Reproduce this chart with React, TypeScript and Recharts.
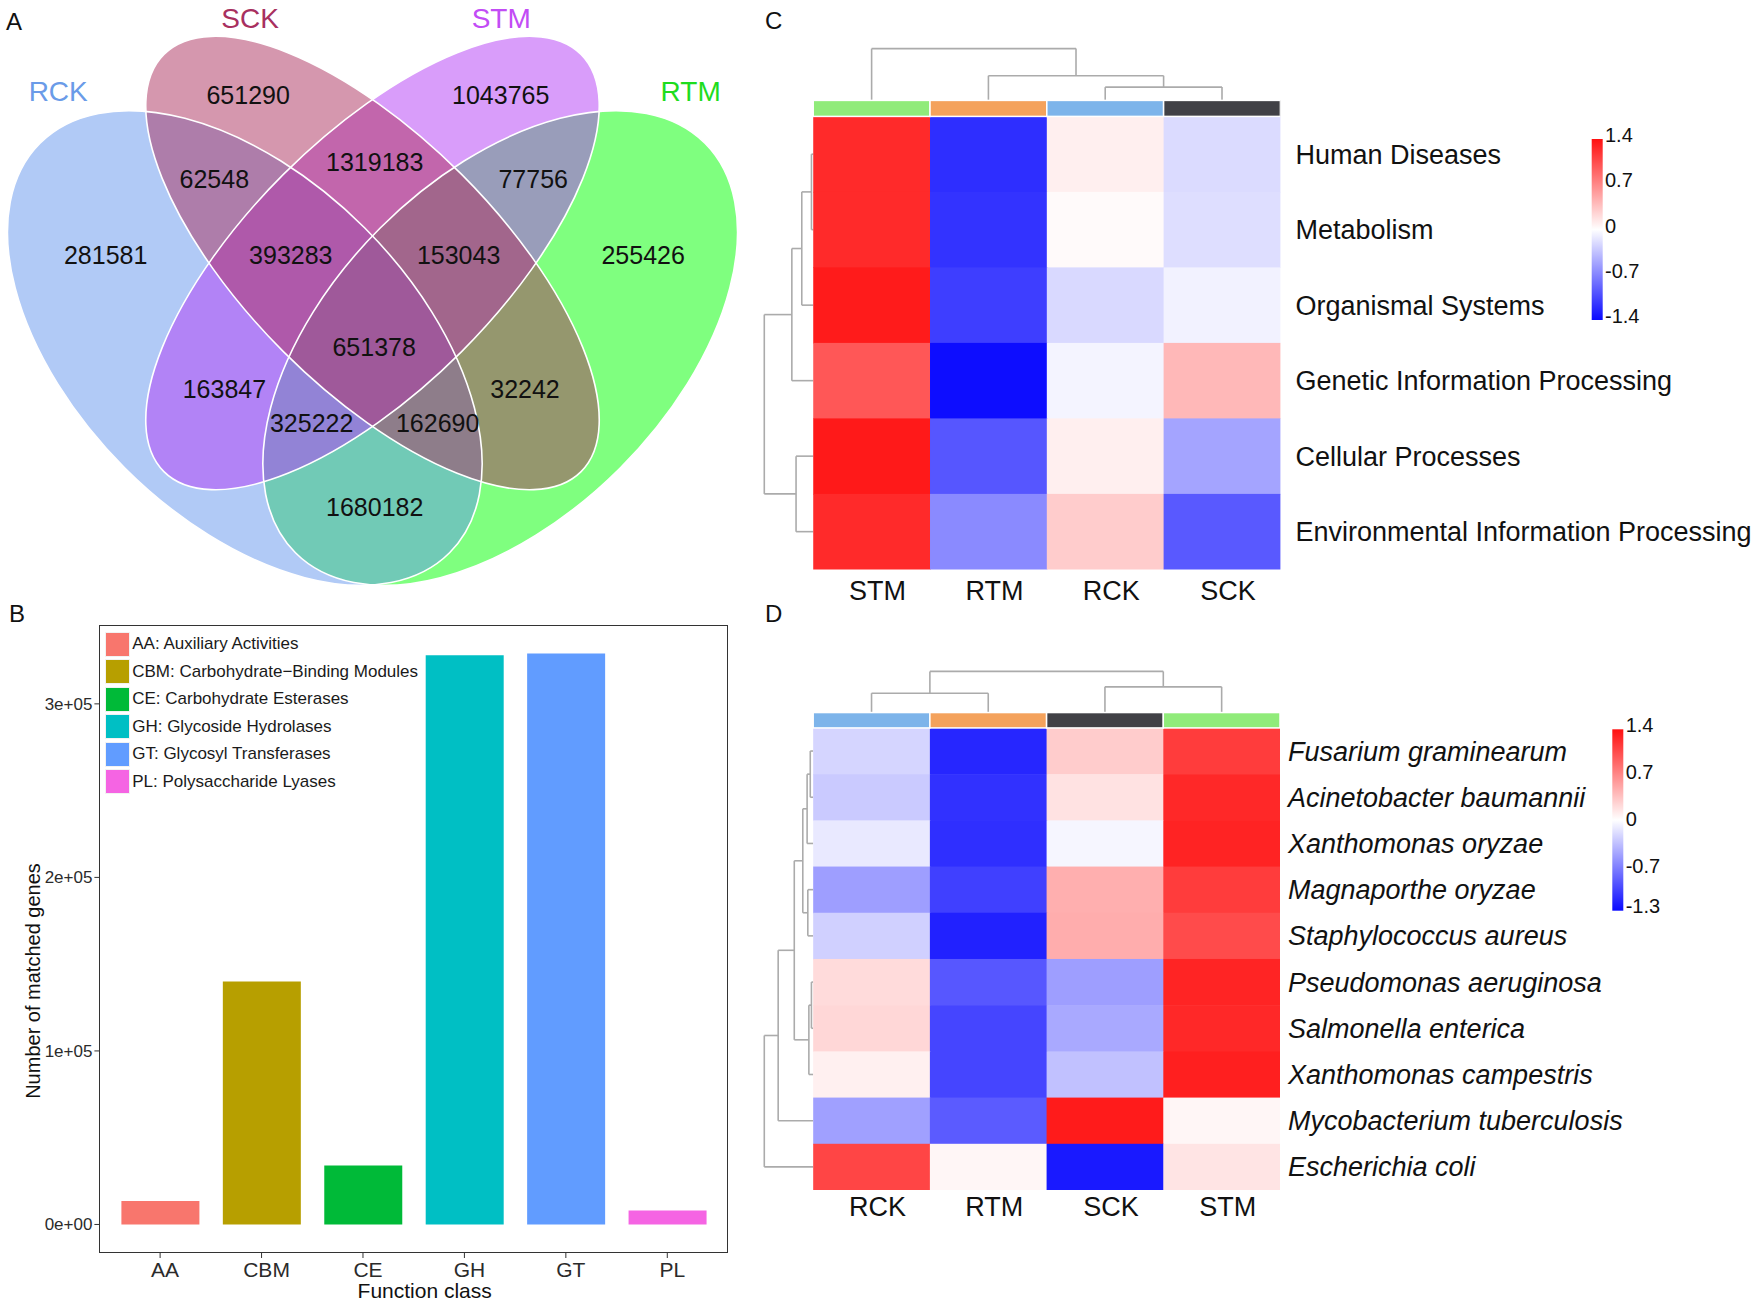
import React from "react";
import {
  Bar,
  BarChart,
  Cell,
  Legend,
  ReferenceLine,
  Scatter,
  ScatterChart,
  XAxis,
  YAxis,
} from "recharts";

const FONT = "'Liberation Sans', Arial, Helvetica, sans-serif";
const INK = "#111111";

/* ---------------- A: four-set Venn ---------------- */
// paint order matters: the overlaps are plain 50% alpha blends
const VENN_SETS = ["RTM", "RCK", "STM", "SCK"];
const VENN_COLORS = ["#00FF00", "#6495ED", "#B43CF5", "#AB2F5D"];
const VENN_LABEL_COLORS = ["#1EDC1E", "#6A9BE8", "#C24CF5", "#A8305F"];
const VENN_CX = [500.2, 244.8, 372.5, 372.5];
const VENN_CY = [348, 348, 263, 263];
const VENN_RX = [289.6, 289.6, 295, 295];
const VENN_RY = [169.7, 169.7, 125.7, 125.7];
const VENN_ROT = [-45, 45, -45, 45];
const VENN_LABEL_X = [690.7, 58.2, 501.2, 250.1];
const VENN_LABEL_Y = [90.6, 90.6, 18.4, 18.4];

const VENN_COUNTS = [
  651290, 1043765, 62548, 1319183, 77756, 281581, 393283, 153043, 255426,
  651378, 163847, 32242, 325222, 162690, 1680182,
];
const VENN_COUNT_X = [
  248.2, 500.7, 214.3, 374.7, 533.2, 105.7, 290.8, 458.6, 643.2, 374.2, 224.4,
  525, 311.7, 437.7, 374.7,
];
const VENN_COUNT_Y = [
  94.5, 94.5, 179.4, 162.4, 179.4, 254.5, 254.5, 254.5, 254.5, 346.6, 388.8,
  388.8, 423.2, 423.2, 506.5,
];

/* ---------------- B: CAZy classes ---------------- */
const BAR_CLASSES = ["AA", "CBM", "CE", "GH", "GT", "PL"];
const BAR_NAMES = [
  "Auxiliary Activities",
  "Carbohydrate\u2212Binding Modules",
  "Carbohydrate Esterases",
  "Glycoside Hydrolases",
  "Glycosyl Transferases",
  "Polysaccharide Lyases",
];
const BAR_VALUES = [13500, 140000, 34000, 328000, 329000, 8000];
const BAR_COLORS = ["#F8766D", "#B79F00", "#00BA38", "#00BFC4", "#619CFF", "#F564E3"];
const BAR_Y_TICKS = [0, 100000, 200000, 300000];

/* ---------------- C / D: heatmaps ---------------- */
const GROUP_COLORS: Record<string, string> = {
  STM: "#90EB7A",
  RTM: "#F4A25C",
  RCK: "#7DB4EA",
  SCK: "#414146",
};

const C_ROWS = [
  "Human Diseases",
  "Metabolism",
  "Organismal Systems",
  "Genetic Information Processing",
  "Cellular Processes",
  "Environmental Information Processing",
];
const C_COLS = ["STM", "RTM", "RCK", "SCK"];
const C_VALUES = [
  [1.17, -1.15, 0.09, -0.2],
  [1.17, -1.12, 0.03, -0.18],
  [1.25, -1.06, -0.21, -0.07],
  [0.92, -1.33, -0.06, 0.39],
  [1.26, -0.93, 0.09, -0.5],
  [1.17, -0.64, 0.28, -0.91],
];
// hclust-style merges: negative = leaf (1-based), positive = earlier merge
const C_ROW_MERGE = [[-1, -2], [1, -3], [2, -4], [-5, -6], [3, 4]];
const C_ROW_HEIGHT = [0.015, 0.098, 0.183, 0.147, 0.419];
const C_COL_MERGE = [[-3, -4], [-2, 1], [-1, 2]];
const C_COL_HEIGHT = [0.176, 0.327, 0.686];
const C_LEGEND_TICKS = [1.4, 0.7, 0, -0.7, -1.4];

const D_ROWS = [
  "Fusarium graminearum",
  "Acinetobacter baumannii",
  "Xanthomonas oryzae",
  "Magnaporthe oryzae",
  "Staphylococcus aureus",
  "Pseudomonas aeruginosa",
  "Salmonella enterica",
  "Xanthomonas campestris",
  "Mycobacterium tuberculosis",
  "Escherichia coli",
];
const D_COLS = ["RCK", "RTM", "SCK", "STM"];
const D_VALUES = [
  [-0.23, -1.19, 0.28, 1.07],
  [-0.29, -1.13, 0.16, 1.18],
  [-0.12, -1.14, -0.05, 1.21],
  [-0.53, -1.05, 0.44, 1.07],
  [-0.26, -1.22, 0.45, 0.99],
  [0.2, -0.92, -0.53, 1.2],
  [0.22, -1.02, -0.47, 1.18],
  [0.08, -1.02, -0.34, 1.23],
  [-0.52, -0.9, 1.25, 0.05],
  [1.02, 0.05, -1.26, 0.15],
];
const D_ROW_MERGE = [
  [-1, -2], [1, -3], [-4, -5], [2, 3], [-6, -7], [5, -8], [4, 6], [7, -9], [8, -10],
];
const D_ROW_HEIGHT = [0.025, 0.052, 0.046, 0.089, 0.015, 0.037, 0.162, 0.3, 0.419];
const D_COL_MERGE = [[-1, -2], [-3, -4], [1, 2]];
const D_COL_HEIGHT = [0.418, 0.556, 0.89];
const D_LEGEND_TICKS = [1.4, 0.7, 0, -0.7, -1.3];

const HEAT_LIMIT = 1.4;

function heatColor(v: number) {
  const f = Math.min(1, Math.abs(v) / HEAT_LIMIT);
  const c = Math.round(255 * (1 - f));
  return v >= 0 ? `rgb(255,${c},${c})` : `rgb(${c},${c},255)`;
}

// returns [pos1, h1, pos2, h2] segments of a dendrogram
function dendroSegments(merge: number[][], heights: number[]) {
  const pos: number[] = [];
  const segs: number[][] = [];
  merge.forEach(([a, b], k) => {
    const pa = a < 0 ? -a - 0.5 : pos[a - 1];
    const ha = a < 0 ? 0 : heights[a - 1];
    const pb = b < 0 ? -b - 0.5 : pos[b - 1];
    const hb = b < 0 ? 0 : heights[b - 1];
    const h = heights[k];
    segs.push([pa, ha, pa, h], [pb, hb, pb, h], [pa, h, pb, h]);
    pos[k] = (pa + pb) / 2;
  });
  return segs;
}

/* ---------------- panel A ---------------- */
const VENN_W = 760;
const VENN_H = 600;

function VennPanel() {
  const ellipses = VENN_SETS.map((name, i) => ({
    name,
    x: VENN_CX[i],
    y: VENN_CY[i],
    rx: VENN_RX[i],
    ry: VENN_RY[i],
    rot: VENN_ROT[i],
    color: VENN_COLORS[i],
  }));
  const counts = VENN_COUNTS.map((n, i) => ({ n, x: VENN_COUNT_X[i], y: VENN_COUNT_Y[i] }));
  const labels = VENN_SETS.map((name, i) => ({
    name,
    x: VENN_LABEL_X[i],
    y: VENN_LABEL_Y[i],
    color: VENN_LABEL_COLORS[i],
  }));

  const fillShape = (p: any) => (
    <ellipse
      cx={p.cx}
      cy={p.cy}
      rx={p.payload.rx}
      ry={p.payload.ry}
      transform={`rotate(${p.payload.rot} ${p.cx} ${p.cy})`}
      fill={p.payload.color}
      fillOpacity={0.5}
      stroke="none"
    />
  );
  const outlineShape = (p: any) => (
    <ellipse
      cx={p.cx}
      cy={p.cy}
      rx={p.payload.rx}
      ry={p.payload.ry}
      transform={`rotate(${p.payload.rot} ${p.cx} ${p.cy})`}
      fill="none"
      stroke="#ffffff"
      strokeWidth={1.6}
    />
  );
  const countShape = (p: any) => (
    <text x={p.cx} y={p.cy} dy="0.36em" textAnchor="middle" fontSize={25} fontFamily={FONT} fill={INK}>
      {p.payload.n}
    </text>
  );
  const labelShape = (p: any) => (
    <text x={p.cx} y={p.cy} dy="0.36em" textAnchor="middle" fontSize={28} fontFamily={FONT} fill={p.payload.color}>
      {p.payload.name}
    </text>
  );

  return (
    <ScatterChart width={VENN_W} height={VENN_H} margin={{ top: 0, right: 0, bottom: 0, left: 0 }}>
      <XAxis type="number" dataKey="x" domain={[0, VENN_W]} hide allowDataOverflow />
      <YAxis type="number" dataKey="y" domain={[0, VENN_H]} reversed hide allowDataOverflow />
      <Scatter data={ellipses} shape={fillShape} isAnimationActive={false} />
      <Scatter data={ellipses} shape={outlineShape} isAnimationActive={false} />
      <Scatter data={counts} shape={countShape} isAnimationActive={false} />
      <Scatter data={labels} shape={labelShape} isAnimationActive={false} />
    </ScatterChart>
  );
}

/* ---------------- panel B ---------------- */
const B_PLOT = { left: 99.4, top: 25, width: 628.6, height: 628 };

function BarLegend() {
  return (
    <div style={{ fontFamily: FONT }}>
      {BAR_CLASSES.map((c, i) => (
        <div key={c} style={{ display: "flex", alignItems: "center", height: 27.5 }}>
          <span
            style={{
              display: "inline-block",
              width: 25,
              height: 25,
              background: BAR_COLORS[i],
              boxSizing: "border-box",
              border: "1px solid #f2f2f2",
            }}
          />
          <span style={{ marginLeft: 2, fontSize: 17, color: "#1a1a1a", whiteSpace: "nowrap" }}>
            {c}: {BAR_NAMES[i]}
          </span>
        </div>
      ))}
    </div>
  );
}

function BarPanel() {
  const data = BAR_CLASSES.map((c, i) => ({ name: c, value: BAR_VALUES[i] }));
  const sci = (v: number) => (v === 0 ? "0e+00" : `${v / 100000}e+05`);
  return (
    <div style={{ position: "relative", width: 760, height: 703 }}>
      <BarChart
        width={760}
        height={703}
        data={data}
        margin={{ top: B_PLOT.top, right: 760 - B_PLOT.left - B_PLOT.width, bottom: 0, left: 0 }}
      >
        <XAxis
          dataKey="name"
          padding={{ left: 10, right: 10 }}
          height={50}
          interval={0}
          axisLine={false}
          tickLine={{ stroke: "#333" }}
          tickSize={5}
          tickMargin={4}
          tick={{ fontSize: 21, fill: "#2b2b2b", fontFamily: FONT, dx: 5 }}
          label={{ value: "Function class", position: "center", dx: 11, dy: 13, fontSize: 21, fill: INK, fontFamily: FONT }}
        />
        <YAxis
          type="number"
          domain={[-16450, 345450]}
          allowDataOverflow
          ticks={BAR_Y_TICKS}
          tickFormatter={sci}
          width={B_PLOT.left}
          axisLine={false}
          tickLine={{ stroke: "#333" }}
          tickSize={5}
          tickMargin={2}
          tick={{ fontSize: 17, fill: "#2b2b2b", fontFamily: FONT }}
          label={{
            value: "Number of matched genes",
            angle: -90,
            position: "center",
            dx: -17,
            dy: 42,
            fontSize: 20,
            fill: INK,
            fontFamily: FONT,
          }}
        />
        <Bar dataKey="value" barSize={78} isAnimationActive={false}>
          {data.map((d, i) => (
            <Cell key={d.name} fill={BAR_COLORS[i]} />
          ))}
        </Bar>
        <Legend
          layout="horizontal"
          verticalAlign="middle"
          align="center"
          content={() => <BarLegend />}
          wrapperStyle={{ left: 105.2, top: 30.6, width: "auto", height: "auto" }}
        />
      </BarChart>
      <div
        style={{
          position: "absolute",
          left: B_PLOT.left,
          top: B_PLOT.top,
          width: B_PLOT.width,
          height: B_PLOT.height,
          border: "1.4px solid #333",
          boxSizing: "border-box",
          pointerEvents: "none",
        }}
      />
    </div>
  );
}

/* ---------------- panels C / D ---------------- */
type HeatProps = {
  id: string;
  rows: string[];
  cols: string[];
  values: number[][];
  rowMerge: number[][];
  rowHeight: number[];
  colMerge: number[][];
  colHeight: number[];
  width: number;
  height: number;
  margin: { top: number; right: number; bottom: number; left: number };
  xMin: number;
  yMin: number;
  annotRows: number;
  rowTickMargin: number;
  colTickMargin: number;
  italic?: boolean;
  legendTicks: number[];
  legend: { x: number; top: number; h: number; labelX: number; labelTop: number; labelBottom: number };
};

const Y_AXIS_W = 480;
const X_AXIS_H = 60;

function Heatmap(props: HeatProps) {
  const { rows, cols, values, margin, xMin, yMin, annotRows, legend, legendTicks } = props;
  const plotW = props.width - margin.left - margin.right - Y_AXIS_W;
  const plotH = props.height - margin.top - margin.bottom - X_AXIS_H;
  const cw = plotW / (cols.length - xMin);
  const ch = plotH / (rows.length - yMin);

  const cells = values.flatMap((row, r) => row.map((v, c) => ({ x: c + 0.5, y: r + 0.5, v })));
  const annot = cols.map((g, c) => ({ x: c + 0.5, y: -annotRows / 2, g }));

  const rowSegs = dendroSegments(props.rowMerge, props.rowHeight).map(([p1, h1, p2, h2]) => [
    { x: -h1, y: p1 },
    { x: -h2, y: p2 },
  ]);
  const colSegs = dendroSegments(props.colMerge, props.colHeight).map(([p1, h1, p2, h2]) => [
    { x: p1, y: -annotRows - h1 },
    { x: p2, y: -annotRows - h2 },
  ]);

  const cellShape = (p: any) => (
    <rect
      x={p.cx - cw / 2}
      y={p.cy - ch / 2}
      width={cw + 0.6}
      height={ch + 0.6}
      fill={heatColor(p.payload.v)}
      stroke="none"
    />
  );
  const annotShape = (p: any) => (
    <rect
      x={p.cx - cw / 2}
      y={p.cy - (annotRows * ch) / 2}
      width={cw}
      height={annotRows * ch}
      fill={GROUP_COLORS[p.payload.g]}
      stroke="#ffffff"
      strokeWidth={1.5}
    />
  );

  const tMax = legendTicks[0];
  const tMin = legendTicks[legendTicks.length - 1];
  const colorBar = () => (
    <svg width={props.width} height={props.height} style={{ display: "block" }}>
      <defs>
        <linearGradient id={`grad-${props.id}`} x1="0" y1="0" x2="0" y2="1">
          <stop offset="0%" stopColor="#FF1010" />
          <stop offset="50%" stopColor="#FFFFFF" />
          <stop offset="100%" stopColor="#0A0AFF" />
        </linearGradient>
      </defs>
      <rect x={legend.x} y={legend.top} width={11} height={legend.h} fill={`url(#grad-${props.id})`} />
      {legendTicks.map((t) => (
        <text
          key={t}
          x={legend.labelX}
          y={legend.labelTop + ((tMax - t) / (tMax - tMin)) * (legend.labelBottom - legend.labelTop)}
          dy="0.36em"
          fontSize={20}
          fontFamily={FONT}
          fill={INK}
        >
          {t}
        </text>
      ))}
    </svg>
  );

  return (
    <ScatterChart width={props.width} height={props.height} margin={margin}>
      <XAxis
        type="number"
        dataKey="x"
        domain={[xMin, cols.length]}
        allowDataOverflow
        ticks={cols.map((_, i) => i + 0.5)}
        interval={0}
        tickFormatter={(v: number) => cols[Math.floor(v)]}
        height={X_AXIS_H}
        axisLine={false}
        tickLine={false}
        tickSize={0}
        tickMargin={props.colTickMargin}
        tick={{ fontSize: 27, fill: INK, fontFamily: FONT, dx: 6 }}
      />
      <YAxis
        type="number"
        dataKey="y"
        domain={[yMin, rows.length]}
        allowDataOverflow
        reversed
        orientation="right"
        ticks={rows.map((_, i) => i + 0.5)}
        interval={0}
        tickFormatter={(v: number) => rows[Math.floor(v)]}
        width={Y_AXIS_W}
        axisLine={false}
        tickLine={false}
        tickSize={0}
        tickMargin={props.rowTickMargin}
        tick={{ fontSize: 27, fill: INK, fontFamily: FONT, fontStyle: props.italic ? "italic" : "normal" }}
      />
      <Scatter data={cells} shape={cellShape} isAnimationActive={false} />
      <Scatter data={annot} shape={annotShape} isAnimationActive={false} />
      {[...rowSegs, ...colSegs].map((seg, i) => (
        <ReferenceLine
          key={i}
          segment={seg}
          stroke="#ababab"
          strokeWidth={1.6}
          ifOverflow="visible"
        />
      ))}
      <Legend
        layout="horizontal"
        verticalAlign="middle"
        align="center"
        content={colorBar}
        wrapperStyle={{ left: 0, top: 0, width: props.width, height: props.height, pointerEvents: "none" }}
      />
    </ScatterChart>
  );
}

/* ---------------- layout ---------------- */
const PANEL_LETTERS = ["A", "B", "C", "D"];
const LETTER_POS = [
  { left: 6, top: 10.2 },
  { left: 9, top: 601.7 },
  { left: 765, top: 8.7 },
  { left: 765, top: 602 },
];

export default function App() {
  return (
    <div
      style={{
        position: "absolute",
        left: 0,
        top: 0,
        width: 1764,
        height: 1303,
        background: "#ffffff",
        overflow: "hidden",
        fontFamily: FONT,
      }}
    >
      <div style={{ position: "absolute", left: 0, top: 0 }}>
        <VennPanel />
      </div>
      <div style={{ position: "absolute", left: 0, top: 600 }}>
        <BarPanel />
      </div>
      <div style={{ position: "absolute", left: 740, top: 0 }}>
        <Heatmap
          id="c"
          rows={C_ROWS}
          cols={C_COLS}
          values={C_VALUES}
          rowMerge={C_ROW_MERGE}
          rowHeight={C_ROW_HEIGHT}
          colMerge={C_COL_MERGE}
          colHeight={C_COL_HEIGHT}
          width={1024}
          height={640}
          margin={{ top: 47.7, right: 3.6, bottom: 10.6, left: 23 }}
          xMin={-0.43}
          yMin={-0.91}
          annotRows={0.212}
          rowTickMargin={15}
          colTickMargin={11}
          legendTicks={C_LEGEND_TICKS}
          legend={{ x: 851.7, top: 139, h: 181, labelX: 865, labelTop: 135, labelBottom: 315.7 }}
        />
      </div>
      <div style={{ position: "absolute", left: 740, top: 600 }}>
        <Heatmap
          id="d"
          rows={D_ROWS}
          cols={D_COLS}
          values={D_VALUES}
          rowMerge={D_ROW_MERGE}
          rowHeight={D_ROW_HEIGHT}
          colMerge={D_COL_MERGE}
          colHeight={D_COL_HEIGHT}
          width={1024}
          height={703}
          margin={{ top: 70.5, right: 4, bottom: 53, left: 23 }}
          xMin={-0.43}
          yMin={-1.243}
          annotRows={0.333}
          rowTickMargin={8}
          colTickMargin={7}
          italic
          legendTicks={D_LEGEND_TICKS}
          legend={{ x: 872.3, top: 129.3, h: 181.4, labelX: 885.7, labelTop: 125, labelBottom: 306 }}
        />
      </div>
      {PANEL_LETTERS.map((l, i) => (
        <div
          key={l}
          style={{
            position: "absolute",
            left: LETTER_POS[i].left,
            top: LETTER_POS[i].top,
            fontSize: 24,
            lineHeight: 1,
            color: INK,
          }}
        >
          {l}
        </div>
      ))}
    </div>
  );
}
